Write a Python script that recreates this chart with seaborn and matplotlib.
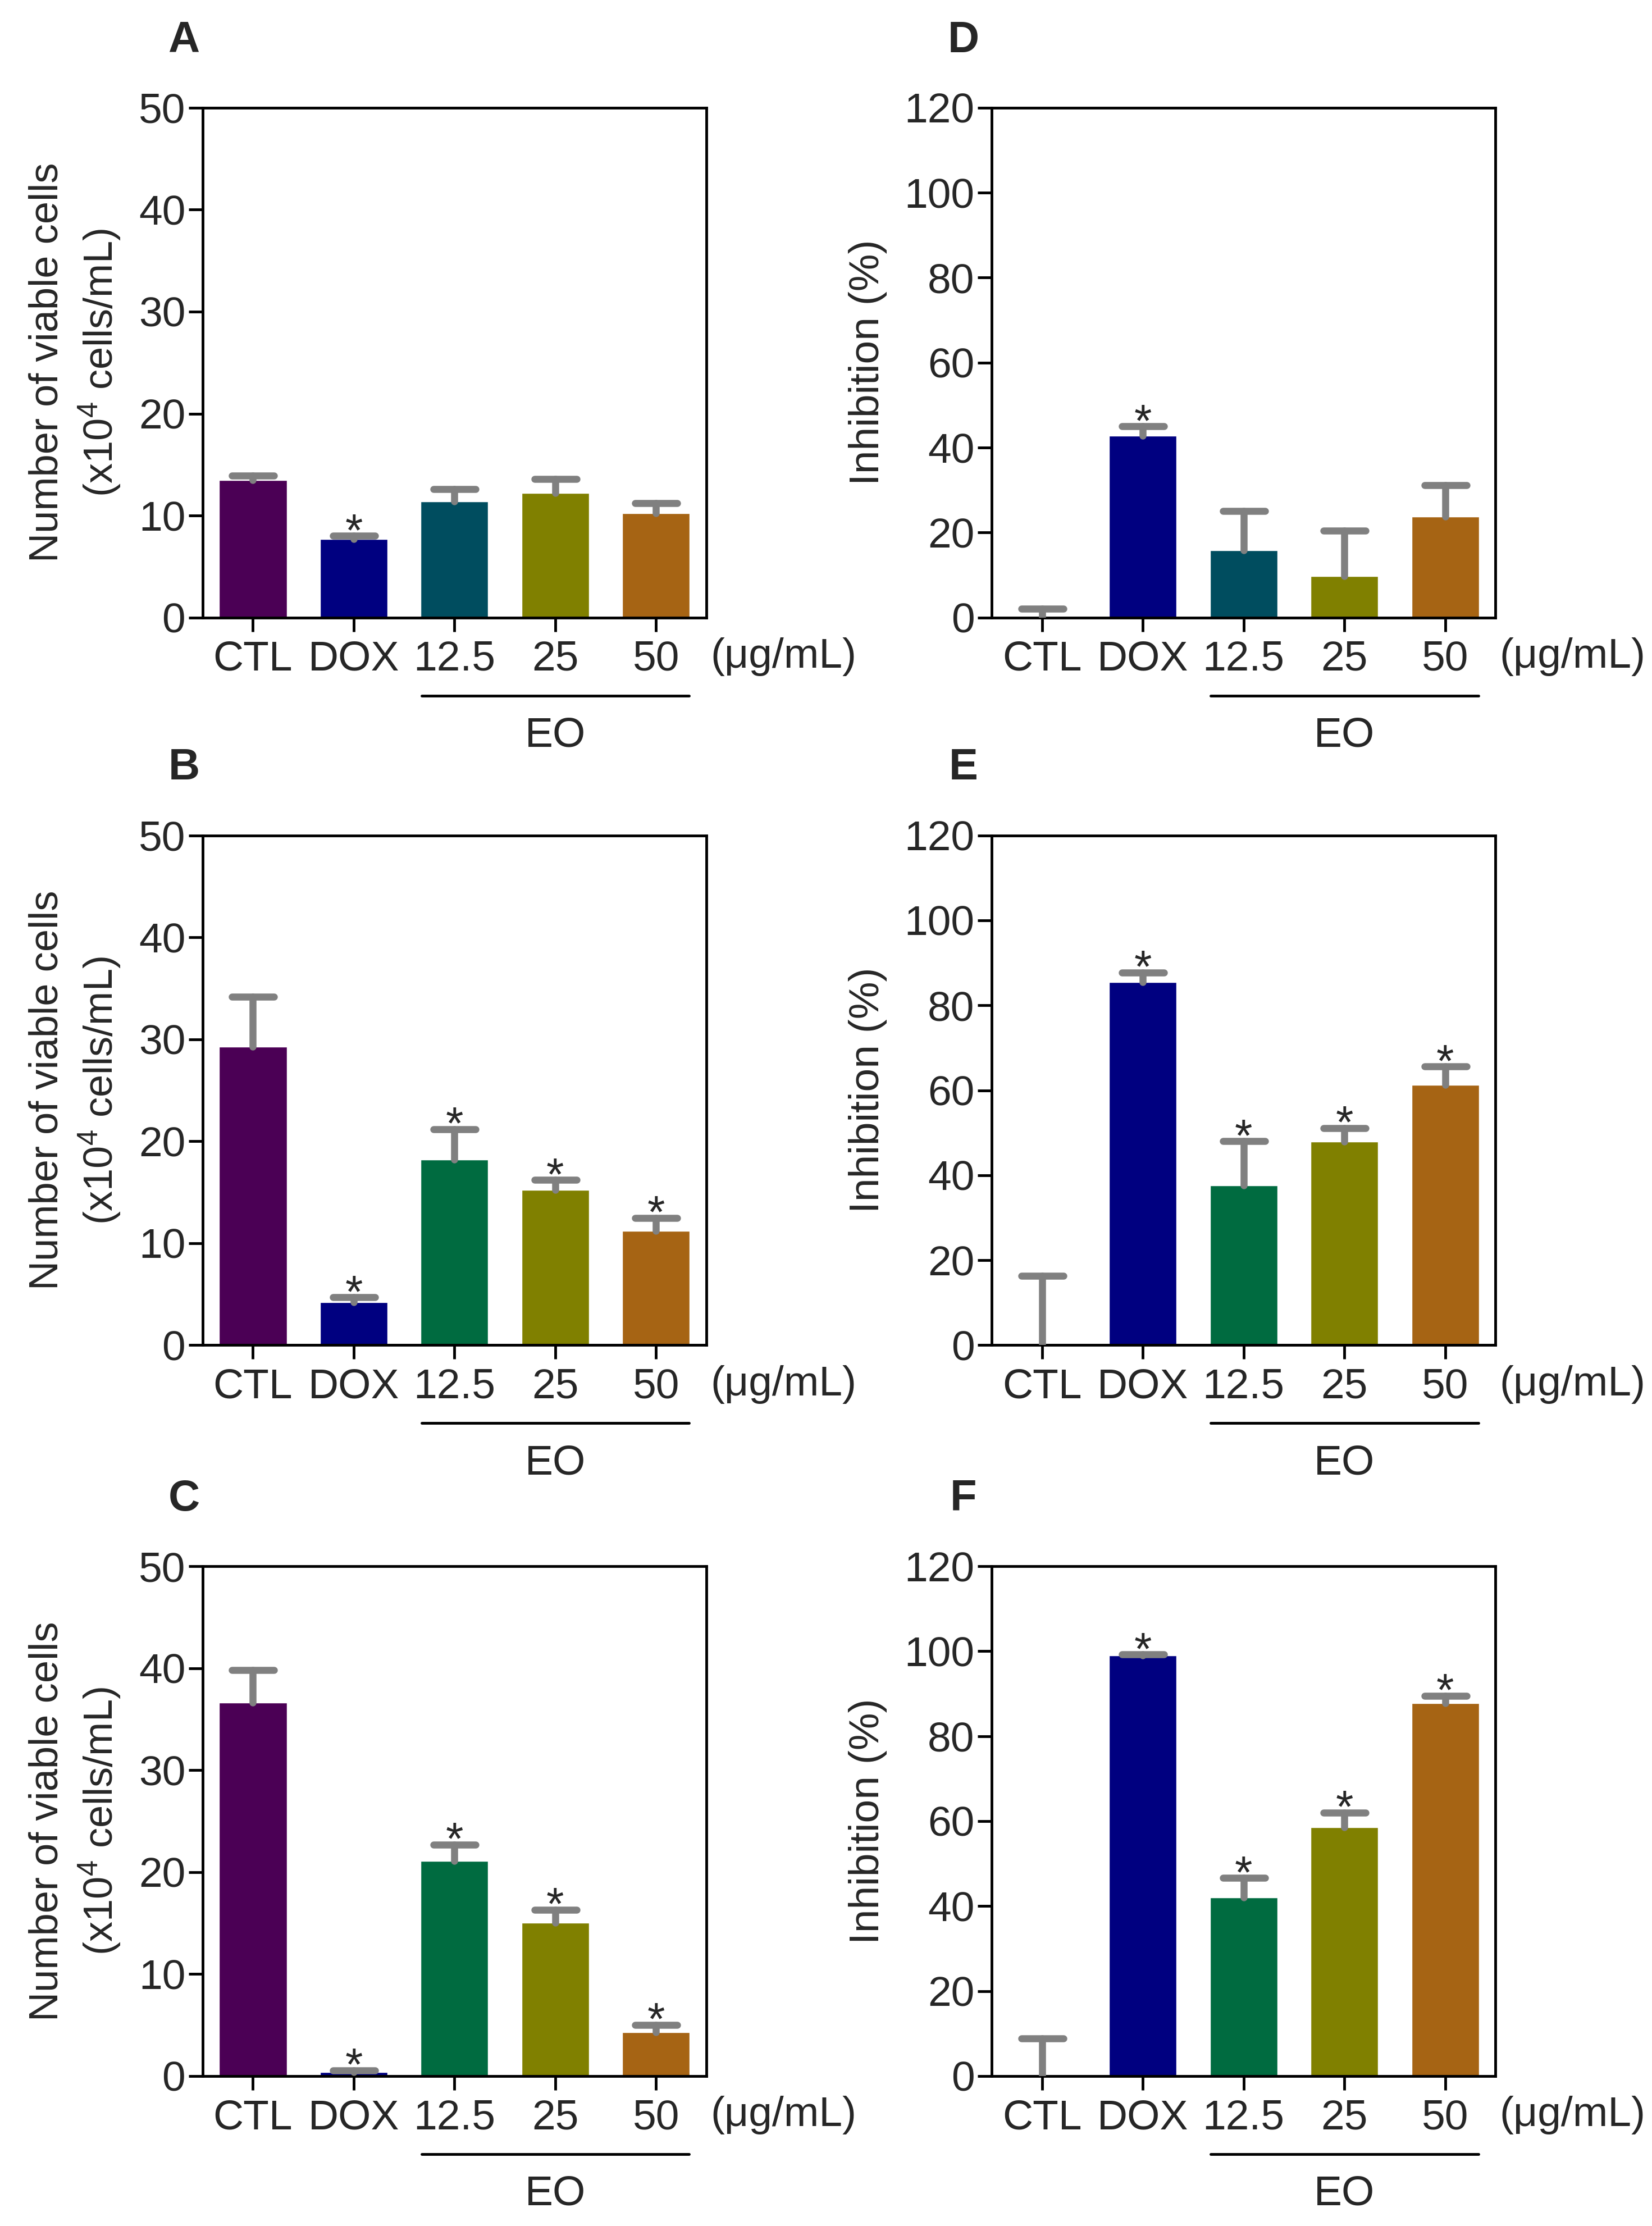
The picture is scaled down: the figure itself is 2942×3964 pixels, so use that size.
import numpy as np
import pandas as pd
import matplotlib
matplotlib.use("Agg")
import matplotlib.pyplot as plt
import matplotlib.transforms as mtransforms
from matplotlib.markers import MarkerStyle
import seaborn as sns

# データ
groups = ["CTL", "DOX", "12.5", "25", "50"]

cells_A = [13.5, 7.7, 11.4, 12.2, 10.2]
sd_A = [0.4, 0.3, 1.2, 1.4, 1.0]
star_A = [False, True, False, False, False]

cells_B = [29.3, 4.2, 18.2, 15.2, 11.2]
sd_B = [4.9, 0.5, 3.0, 1.0, 1.3]
star_B = [False, True, True, True, True]

cells_C = [36.6, 0.35, 21.1, 15.0, 4.3]
sd_C = [3.2, 0.2, 1.6, 1.3, 0.7]
star_C = [False, True, True, True, True]

inhib_D = [0.0, 42.8, 15.8, 9.7, 23.8]
sd_D = [2.0, 2.2, 9.2, 10.8, 7.4]
star_D = [False, True, False, False, False]

inhib_E = [0.0, 85.5, 37.6, 47.9, 61.3]
sd_E = [16.3, 2.2, 10.4, 3.2, 4.3]
star_E = [False, True, True, True, True]

inhib_F = [0.0, 99.0, 42.0, 58.6, 87.8]
sd_F = [8.8, 0.2, 4.6, 3.4, 1.7]
star_F = [False, True, True, True, True]

colors_top = ["#4b0055", "#000080", "#004d5f", "#808000", "#a66414"]
colors_low = ["#4b0055", "#000080", "#006b40", "#808000", "#a66414"]

sns.set_style("ticks")
plt.rcParams["font.family"] = ["Liberation Sans", "DejaVu Sans"]
plt.rcParams["mathtext.default"] = "regular"

fig = plt.figure(figsize=(29.42, 39.64), dpi=100)

# 各パネルの位置 (left, bottom, width, height)
lefts = [0.1226, 0.6003]
bottoms = [0.7226, 0.3957, 0.0674]
W, H = 0.305, 0.229

panels = [
    ("A", cells_A, sd_A, star_A, colors_top, 0, 0),
    ("B", cells_B, sd_B, star_B, colors_low, 0, 1),
    ("C", cells_C, sd_C, star_C, colors_low, 0, 2),
    ("D", inhib_D, sd_D, star_D, colors_top, 1, 0),
    ("E", inhib_E, sd_E, star_E, colors_low, 1, 1),
    ("F", inhib_F, sd_F, star_F, colors_low, 1, 2),
]

FS = 54
LW = 3.5

for letter, vals, sds, stars, cols, c, r in panels:
    ax = fig.add_axes([lefts[c], bottoms[r], W, H])
    df = pd.DataFrame({"group": groups, "value": vals})
    sns.barplot(data=df, x="group", y="value", hue="group", palette=cols,
                saturation=1, width=0.67, legend=False, ax=ax, errorbar=None)

    xs = np.arange(len(groups))
    tops = np.array(vals) + np.array(sds)
    eb = ax.errorbar(xs, vals, yerr=[np.zeros(len(vals)), sds], fmt="none",
                     ecolor="#808080", elinewidth=9, capsize=27, capthick=9,
                     zorder=3)
    # 下側のキャップは消す
    for cl in eb[1]:
        yd = np.asarray(cl.get_ydata())
        if np.allclose(yd, vals):
            cl.set_visible(False)
        else:
            cl.set_marker(MarkerStyle("_", capstyle="round"))
    for lc in eb[2]:
        lc.set_capstyle("round")

    for x, t, s in zip(xs, tops, stars):
        if s:
            ax.annotate("*", (x, t), xytext=(0, -12), textcoords="offset points",
                        ha="center", va="baseline", fontsize=FS + 4)

    if c == 0:
        ax.set_ylim(0, 50)
        ax.set_yticks(range(0, 51, 10))
        ax.set_ylabel("Number of viable cells\n(x10$^4$ cells/mL)", fontsize=FS - 2,
                      labelpad=20, linespacing=1.3)
        lx = -0.037
    else:
        ax.set_ylim(0, 120)
        ax.set_yticks(range(0, 121, 20))
        ax.set_ylabel("Inhibition (%)", fontsize=FS, labelpad=22)
        lx = -0.056
    ax.set_xlim(-0.5, 4.5)
    ax.set_xlabel("")

    for sp in ax.spines.values():
        sp.set_visible(True)
        sp.set_linewidth(LW)
        sp.set_color("black")
    ax.tick_params(axis="both", which="major", length=18, width=LW,
                   labelsize=FS, direction="out", color="black", pad=11)
    ax.tick_params(axis="y", pad=4)

    ax.text(1.008, -0.077, "(\u03bcg/mL)", transform=ax.transAxes,
            ha="left", va="center", fontsize=FS)

    # EO の線
    trans = mtransforms.blended_transform_factory(ax.transData, ax.transAxes)
    ax.plot([2 - 0.325, 4 + 0.33], [-0.153, -0.153], color="black", lw=LW,
            transform=trans, clip_on=False)
    ax.text(3, -0.232, "EO", transform=trans, ha="center", va="center",
            fontsize=FS)

    ax.text(lx, 1.132, letter, transform=ax.transAxes, ha="center",
            va="center", fontsize=FS + 2, fontweight="bold")

fig.savefig("out.png", dpi=100, facecolor="white")
